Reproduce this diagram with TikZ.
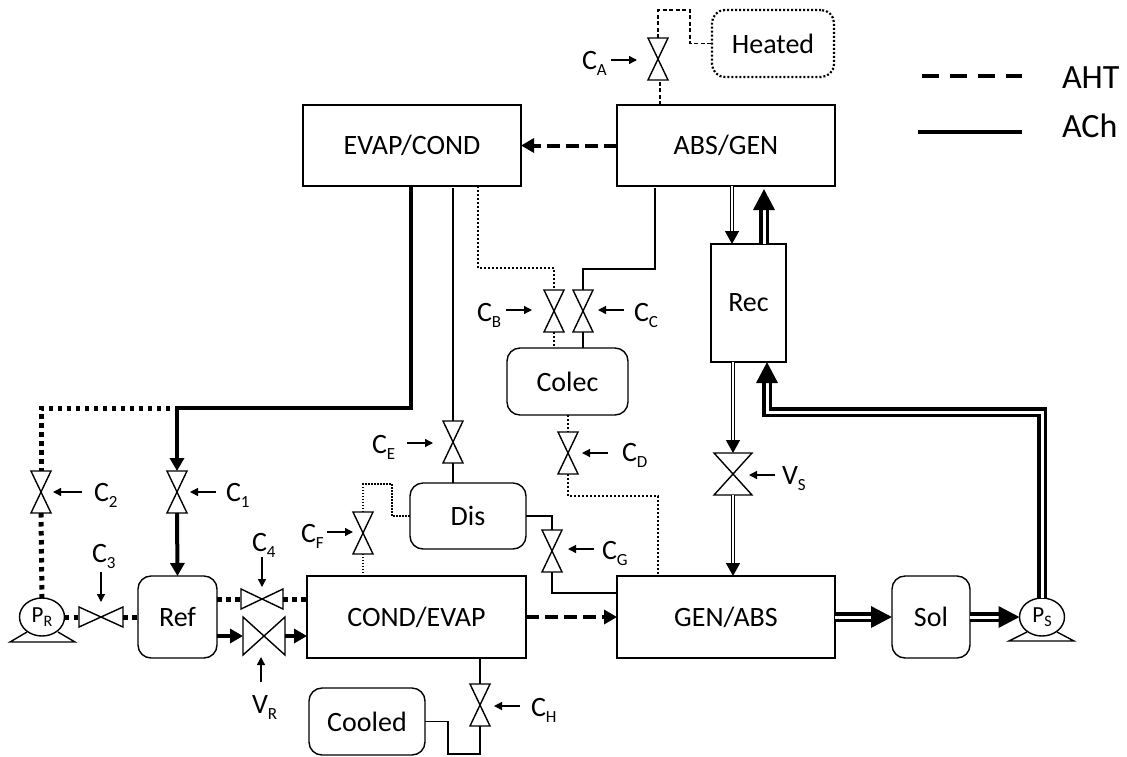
\documentclass[tikz,border=0pt]{standalone}
\usepackage{fontspec}
\setmainfont{Carlito}
\usetikzlibrary{arrows.meta,shapes.geometric}
\newcommand\lblsub[2]{#1\raisebox{-6pt}{\fontsize{17}{17}\selectfont #2}}
\newcommand\pumpsub[2]{#1\raisebox{-4pt}{\fontsize{16}{16}\selectfont #2}}
\newcommand\valveV[5]{%
  \node[valvebox,minimum width=#4*2pt,minimum height=#5*2pt] (#1) at (#2,#3) {};
  \draw[unit] (#1.north west)--(#1.north east)--(#1.south west)--(#1.south east)--cycle;}
\newcommand\valveH[5]{%
  \node[valvebox,minimum width=#4*2pt,minimum height=#5*2pt] (#1) at (#2,#3) {};
  \draw[unit] (#1.north west)--(#1.south west)--(#1.north east)--(#1.south east)--cycle;}
\tikzset{
  unit/.style={line width=1.4pt,line join=miter},
  valvebox/.style={inner sep=0pt,outer sep=0pt},
  mainfont/.style={font=\fontsize{28}{28}\selectfont},
  box/.style={draw,unit,mainfont,inner sep=0pt,outer sep=0pt,align=center},
  rbox/.style={box,rounded corners=13pt},
  pumpnode/.style={draw,unit,ellipse,inner sep=0pt,outer sep=0pt,minimum width=45pt,minimum height=38pt,font=\fontsize{23}{23}\selectfont},
  tag/.style={anchor=base west,inner sep=0pt,outer sep=0pt,mainfont},
  legendtag/.style={anchor=base west,inner sep=0pt,outer sep=0pt,font=\fontsize{34}{34}\selectfont},
  ctl/.style={line width=1.3pt,-{Triangle[length=8pt,width=8pt]}},
  heavy/.style={line width=4pt},
  heavydots/.style={line width=5pt,dash pattern=on 4.5pt off 4.5pt},
  heavydash/.style={line width=4pt,dash pattern=on 13pt off 6pt},
  bigtip/.style={-{Triangle[length=13pt,width=14pt]}},
  thinpipe/.style={line width=1.4pt},
  middots/.style={line width=2pt,dash pattern=on 2pt off 2pt},
  finedots/.style={line width=1.3pt,dash pattern=on 1.5pt off 1.5pt},
  finedash/.style={line width=1.3pt,dash pattern=on 4pt off 2.5pt},
  dbl/.style={line width=1.3pt,double,double distance=1.5pt,-{Triangle[length=13pt,width=14pt]}},
  band/.style={line width=3.5pt,double,double distance=3pt,-{Triangle[length=21pt,width=21pt]}},
}
\begin{document}
\begin{tikzpicture}[x=1pt,y=-1pt]
\useasboundingbox (0,0) rectangle (1127,756);
% units
\node[box,minimum width=218pt,minimum height=81pt] (evap) at (412,145.5) {EVAP/COND};
\node[box,minimum width=218pt,minimum height=81pt] (absg) at (726,145.5) {ABS/GEN};
\node[box,minimum width=75pt,minimum height=118pt] (rec) at (748.5,303) {Rec};
\node[rbox,minimum width=121pt,minimum height=67pt] (colec) at (567.5,381.5) {Colec};
\node[rbox,minimum width=122pt,minimum height=67pt,line width=2.2pt,dash pattern=on 2pt off 2pt] (heated) at (773,43.5) {Heated};
\node[rbox,minimum width=116pt,minimum height=66pt] (dis) at (468,516) {Dis};
\node[box,minimum width=219pt,minimum height=82pt] (cond) at (416.5,617) {COND/EVAP};
\node[box,minimum width=218pt,minimum height=82pt] (gen) at (726,617) {GEN/ABS};
\node[rbox,minimum width=79pt,minimum height=82pt] (ref) at (177.5,617) {Ref};
\node[rbox,minimum width=78pt,minimum height=82pt] (sol) at (931,617) {Sol};
\node[rbox,minimum width=116pt,minimum height=67pt] (cooled) at (367,721.5) {Cooled};
% pumps
\node[pumpnode] (pr) at (42,617) {\pumpsub{P}{R}};
\node[pumpnode] (ps) at (1042,617) {\pumpsub{P}{S}};
\draw[unit] ([shift={(-15,15)}]pr.center) -- ([shift={(-32,25)}]pr.center) -- ([shift={(33,25)}]pr.center) -- ([shift={(16,15)}]pr.center);
\draw[unit] ([shift={(-15,15)}]ps.center) -- ([shift={(-33,24)}]ps.center) -- ([shift={(32,24)}]ps.center) -- ([shift={(15,15)}]ps.center);
% valves
\valveV{c1}{177}{492}{10}{21}
\valveV{c2}{41}{492}{10}{21}
\valveH{c3}{101}{617}{22}{10}
\valveH{c4}{262}{599}{21}{10}
\valveH{vr}{264}{636}{21}{19}
\valveV{cf}{363}{533}{10}{21}
\valveV{ce}{453}{442}{10}{21}
\valveV{cd}{568}{453}{10}{21}
\valveV{cg}{552}{551}{10}{21}
\valveV{ch}{480}{705}{10}{21}
\valveV{ca}{658}{59}{10}{21}
\valveV{cb}{554}{311}{10}{21}
\valveV{cc}{583}{311}{10}{21}
\valveV{vs}{733}{474}{19}{21}
% labels
\node[tag] (lc1) at (226,501) {\lblsub{C}{1}};
\node[tag] (lc2) at (94,501) {\lblsub{C}{2}};
\node[tag] (lc3) at (92,562) {\lblsub{C}{3}};
\node[tag] (lc4) at (252,551) {\lblsub{C}{4}};
\node[tag] (lvr) at (252,713) {\lblsub{V}{R}};
\node[tag] (lcf) at (301,542) {\lblsub{C}{F}};
\node[tag] (lce) at (372,453) {\lblsub{C}{E}};
\node[tag] (lcd) at (622,461) {\lblsub{C}{D}};
\node[tag] (lcg) at (602,559) {\lblsub{C}{G}};
\node[tag] (lch) at (531,716) {\lblsub{C}{H}};
\node[tag] (lca) at (582,69) {\lblsub{C}{A}};
\node[tag] (lcb) at (477,321) {\lblsub{C}{B}};
\node[tag] (lcc) at (634,321) {\lblsub{C}{C}};
\node[tag] (lvs) at (782,484) {\lblsub{V}{S}};
% control arrows
\draw[ctl] ([xshift=29]c1.east) -- ([xshift=3]c1.east);
\draw[ctl] ([xshift=31]c2.east) -- ([xshift=2]c2.east);
\draw[ctl] ([yshift=35]c3.north) -- ([yshift=5]c3.north);
\draw[ctl] ([yshift=32]c4.north) -- ([yshift=2]c4.north);
\draw[ctl] ([shift={(-3,27)}]vr.south) -- ([shift={(-3,2)}]vr.south);
\draw[ctl] ([xshift=-26,yshift=1]cf.west) -- ([xshift=0,yshift=1]cf.west);
\draw[ctl] ([xshift=-36,yshift=-1]ce.west) -- ([xshift=-10,yshift=-1]ce.west);
\draw[ctl] ([xshift=30]cd.east) -- ([xshift=4]cd.east);
\draw[ctl] ([xshift=32,yshift=2]cg.east) -- ([xshift=6,yshift=2]cg.east);
\draw[ctl] ([xshift=30,yshift=-1]ch.east) -- ([xshift=4,yshift=-1]ch.east);
\draw[ctl] ([xshift=-37,yshift=-1]ca.west) -- ([xshift=-11,yshift=-1]ca.west);
\draw[ctl] ([xshift=-38,yshift=1]cb.west) -- ([xshift=-12,yshift=1]cb.west);
\draw[ctl] ([xshift=31,yshift=1]cc.east) -- ([xshift=5,yshift=1]cc.east);
\draw[ctl] ([xshift=23,yshift=-1]vs.east) -- ([xshift=-3,yshift=-1]vs.east);
% heavy refrigerant lines
\coordinate (split) at (177,408);
\draw[heavy,bigtip,line join=miter] ([xshift=-1]evap.south) -- (411,408) -- (split) -- (c1.north);
\draw[heavy,bigtip] (c1.south) -- (ref.north);
\draw[heavydots] ([xshift=-7]split) -- (41,408) -- (c2.north);
\draw[heavydots] (c2.south) -- (pr.north);
\draw[heavydots] (pr.east) -- (c3.west);
\draw[heavydots] (c3.east) -- (ref.west |- c3.east);
\draw[heavydots] (ref.east |- c4.west) -- (c4.west);
\draw[heavydots] (c4.east) -- (cond.west |- c4.east);
\draw[heavy,bigtip] (ref.east |- vr.west) -- (vr.west);
\draw[heavy,bigtip] (vr.east) -- (cond.west |- vr.east);
% heat-exchange dashed arrows
\draw[heavydash,bigtip] (cond.east) -- (gen.west);
\draw[heavydash,bigtip] (absg.west) -- (evap.east);
% fine pipes
\draw[thinpipe] ([yshift=-2]evap.south -| ce.north) -- (ce.north);
\draw[thinpipe] (ce.south) -- (dis.north -| ce.south);
\draw[middots] (evap.south -| 478,0) -- (478,268) -- (554,268) -- (cb.north);
\draw[middots] (cb.south) -- (colec.north -| cb.south);
\draw[thinpipe] ([yshift=-2]absg.south -| 655,0) -- (655,269) -- (583,269) -- (cc.north);
\draw[thinpipe] (cc.south) -- (colec.north -| cc.south);
\draw[middots] (colec.south -| cd.north) -- (cd.north);
\draw[middots] (cd.south) -- (568,496) -- (658,496) -- (gen.north -| 658,0);
\draw[finedots] (cond.north -| cf.south) -- (cf.south);
\draw[finedots] (cf.north) -- (363,484) -- (392,484) -- (392,516) -- (dis.west);
\draw[thinpipe] (dis.east) -- (cg.north |- dis.east) -- (cg.north);
\draw[thinpipe] (cg.south) -- (552,593) -- (gen.west |- 0,593);
\draw[thinpipe] (cond.south -| ch.north) -- (ch.north);
\draw[thinpipe] (ch.south) -- (480,754) -- (448,754) -- (448,721.5) -- (cooled.east);
\draw[finedash] (absg.north -| 660,0) -- (660,80);
\draw[finedash] (ca.north) -- (658,10) -- (690,10) -- (690,43.5) -- (heated.west);
% solution lines
\draw[dbl] (absg.south -| 732,0) -- (rec.north -| 732,0);
\draw[dbl] (rec.south -| vs.north) -- (vs.north);
\draw[dbl] (vs.south) -- (gen.north -| vs.south);
\draw[band] (rec.north -| 764,0) -- (764,189);
\draw[band,line join=miter] (ps.north) -- (1042,412) -- (767,412) -- (rec.south -| 767,0);
\draw[band] (gen.east) -- (sol.west);
\draw[band] (sol.east) -- (ps.west);
% legend
\coordinate (legA) at (922,76);
\coordinate (legB) at (1022,76);
\coordinate (legC) at (918,132);
\coordinate (legD) at (1022,132);
\draw[line width=3.5pt,dash pattern=on 16.5pt off 11.5pt] (legA) -- (legB);
\draw[line width=4pt] (legC) -- (legD);
\node[legendtag] (aht) at (1062,88) {AHT};
\node[legendtag] (ach) at (1062,137) {ACh};
\end{tikzpicture}
\end{document}
